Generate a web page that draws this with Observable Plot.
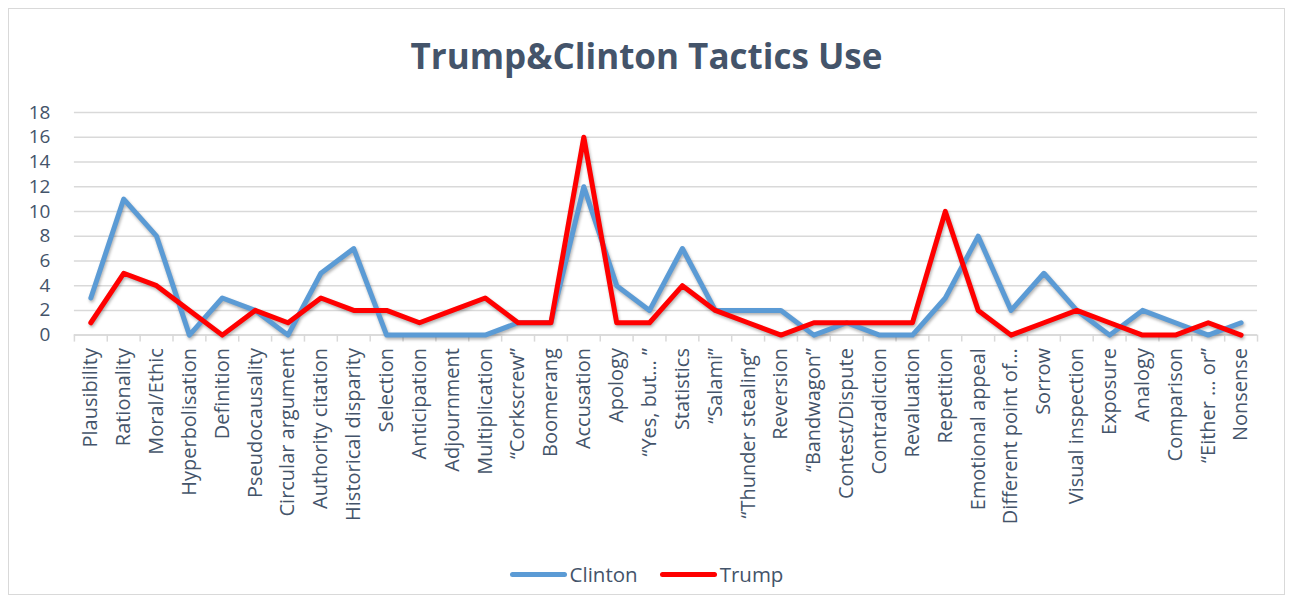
<!DOCTYPE html>
<html>
<head>
<meta charset="utf-8">
<script src="https://cdn.jsdelivr.net/npm/d3@7"></script>
<script src="https://cdn.jsdelivr.net/npm/@observablehq/plot@0.6"></script>
<style>
  html, body { margin: 0; padding: 0; background: #fff; }
  #chart { position: absolute; left: 8px; top: 8px; width: 1277px; height: 587px; border: 1px solid #d9d9d9; box-sizing: border-box; font-family: "Open Sans", sans-serif; color: #44546A; }
  #title { position: absolute; left: 0; right: 0; top: 25px; text-align: center; font-size: 35px; font-weight: bold; line-height: 44px; color: #44546A; }
  #plot { position: absolute; left: 0; top: 86px; }
  #legend { position: absolute; left: 0; right: 0; top: 551px; display: flex; justify-content: center; align-items: center; font-size: 20.5px; line-height: 28px; color: #44546A; }
  .item { display: flex; align-items: center; margin: 0 11px; }
  .swatch { width: 57px; height: 5px; border-radius: 3px; margin-right: 3px; }
</style>
</head>
<body>
<div id="chart">
  <div id="title">Trump&amp;Clinton Tactics Use</div>
  <div id="plot"></div>
  <div id="legend"></div>
</div>
<script>
const categories = ["Plausibility","Rationality","Moral/Ethic","Hyperbolisation","Definition","Pseudocausality","Circular argument","Authority citation","Historical disparity","Selection","Anticipation","Adjournment","Multiplication","\u201cCorkscrew\u201d","Boomerang","Accusation","Apology","\u201cYes, but\u2026 \u201d","Statistics","\u201cSalami\u201d","\u201cThunder stealing\u201d","Reversion","\u201cBandwagon\u201d","Contest/Dispute","Contradiction","Revaluation","Repetition","Emotional appeal","Different point of\u2026","Sorrow","Visual inspection","Exposure","Analogy","Comparison","\u201cEither \u2026 or\u201d","Nonsense"];
const clinton = [3,11,8,0,3,2,0,5,7,0,0,0,0,1,1,12,4,2,7,2,2,2,0,1,0,0,3,8,2,5,2,0,2,1,0,1];
const trump   = [1,5,4,2,0,2,1,3,2,2,1,2,3,1,1,16,1,1,4,2,1,0,1,1,1,1,10,2,0,1,2,1,0,0,1,0];
const seriesNames = ["Clinton","Trump"];
const seriesColors = ["#5B9BD5","#FF0000"];
const yTicks = [0,2,4,6,8,10,12,14,16,18];

const indices = categories.map((c, i) => i);
const boundaries = categories.map((c, i) => i - 0.5).concat([categories.length - 0.5]);
const data = [
  ...clinton.map((v, i) => ({i, series: "Clinton", value: v})),
  ...trump.map((v, i) => ({i, series: "Trump", value: v}))
];

const plot = Plot.plot({
  width: 1277,
  height: 455,
  marginLeft: 65,
  marginRight: 27,
  marginTop: 17,
  marginBottom: 215,
  style: {fontFamily: "Open Sans, sans-serif", fontSize: "19px", color: "#44546A", background: "transparent"},
  x: {domain: [-0.5, categories.length - 0.5], axis: null},
  y: {domain: [0, 18], axis: null},
  color: {domain: seriesNames, range: seriesColors},
  marks: [
    Plot.gridY(yTicks, {stroke: "#d9d9d9", strokeOpacity: 1, strokeWidth: 1.5}),
    Plot.axisY(yTicks, {tickSize: 0, tickPadding: 24, label: null, fontSize: 19}),
    Plot.axisX(indices, {tickFormat: i => categories[i], tickRotate: -90, tickSize: 0, tickPadding: 13, label: null, fontSize: 20}),
    Plot.axisX(boundaries, {tickFormat: () => "", tickSize: 7, stroke: "#d9d9d9", strokeWidth: 1.5, label: null}),
    Plot.ruleY([0], {stroke: "#d9d9d9", strokeWidth: 1.5}),
    Plot.line(data, {x: "i", y: "value", z: "series", stroke: "series", strokeWidth: 5, strokeLinejoin: "round", strokeLinecap: "round"})
  ]
});
plot.querySelectorAll('g[aria-label="line"]').forEach(g => g.style.filter = "drop-shadow(1px 2px 1.5px rgba(0,0,0,0.3))");
document.getElementById("plot").appendChild(plot);

const legend = document.getElementById("legend");
seriesNames.forEach((name, k) => {
  const item = document.createElement("div");
  item.className = "item";
  const sw = document.createElement("div");
  sw.className = "swatch";
  sw.style.background = seriesColors[k];
  const t = document.createElement("span");
  t.textContent = name;
  item.appendChild(sw);
  item.appendChild(t);
  legend.appendChild(item);
});
</script>
</body>
</html>
